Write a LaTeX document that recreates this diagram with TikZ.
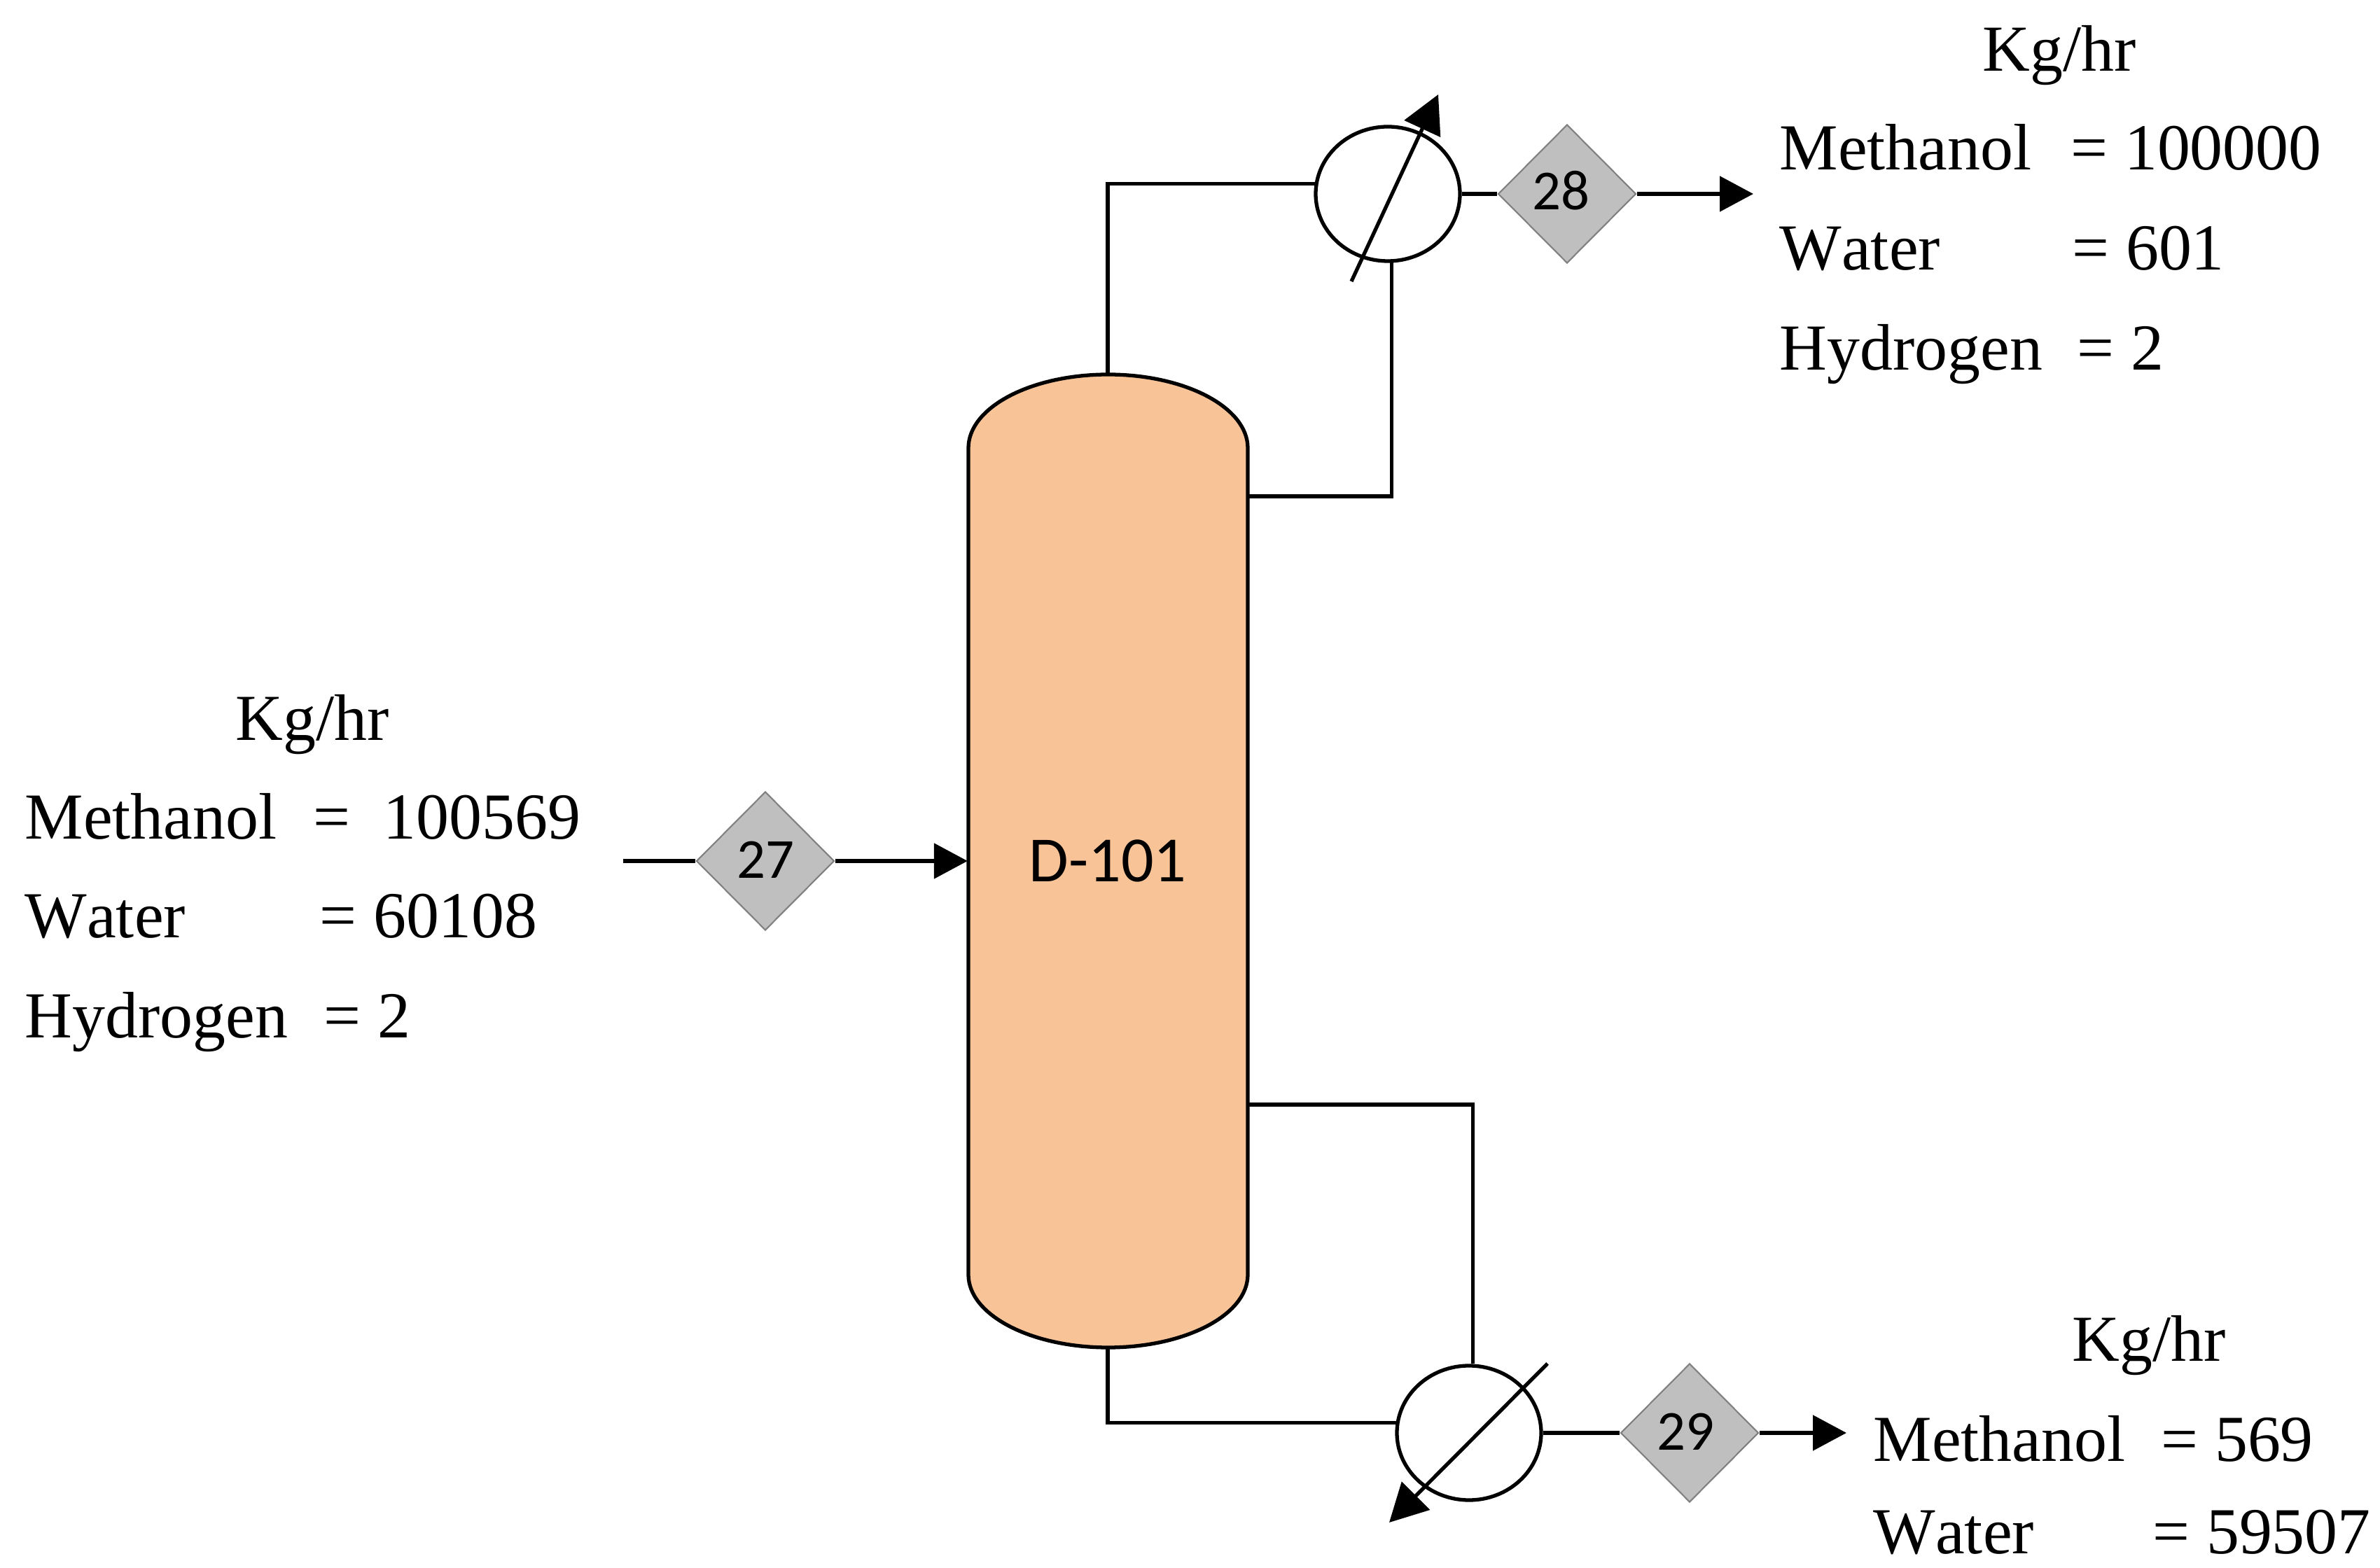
\documentclass[tikz,border=0pt]{standalone}
\usepackage{fontspec}
\setmainfont[Kerning=Off]{Liberation Serif}
\newfontfamily\labelfont{Carlito}
\usetikzlibrary{arrows.meta,shapes.geometric}
\definecolor{columnfill}{HTML}{F8C397}
\definecolor{streamfill}{HTML}{BFBFBF}

\begin{document}
\begin{tikzpicture}[
    column/.style={minimum width=3.99cm, minimum height=13.9cm, inner sep=0pt, font=\labelfont\fontsize{26.2}{30}\selectfont},
    stream/.style={diamond, draw=gray, line width=0.6pt, fill=streamfill, minimum width=1.97cm, minimum height=1.98cm, inner sep=0pt, font=\labelfont\fontsize{23}{26}\selectfont},
    exchanger/.style={ellipse, draw, line width=1.5pt, minimum width=2.06cm, minimum height=1.92cm, inner sep=0pt},
    pipe/.style={line width=1.5pt},
    arr/.style={pipe, -{Triangle[length=4.8mm,width=5mm]}},
    slash/.style={pipe, -{Triangle[length=5.4mm,width=5.6mm]}},
    flow/.style={anchor=base west, inner sep=0pt, font=\fontsize{26.7}{30}\selectfont}
]
\useasboundingbox (0,0) rectangle (33.99,22.39);

\draw[pipe, fill=columnfill] (13.83,15.99) arc[start angle=180, end angle=0, x radius=1.995, y radius=1.05]
    -- (17.82,4.18) arc[start angle=0, end angle=-180, x radius=1.995, y radius=1.04] -- cycle;
\node[column] (col) at (15.82,10.09) {D-101};

\node[stream] (s27) at (10.93,10.09) {\raisebox{1pt}{27}};
\node[stream] (s28) at (22.38,19.62) {\raisebox{3pt}{\hspace{-5pt}28}};
\node[stream] (s29) at (24.13,1.92) {\raisebox{1pt}{\hspace{-3pt}29}};
\node[exchanger] (cond) at (19.82,19.62) {};
\node[exchanger] (reb) at (20.98,1.92) {};

\coordinate (feedin) at (8.90,10.09);
\coordinate (topout) at (25.04,19.62);
\coordinate (botout) at (26.37,1.92);
\coordinate (topdraw) at (17.82,15.30);
\coordinate (botdraw) at (17.82,6.61);
\coordinate (condtail) at (19.30,18.37);
\coordinate (condtip) at (20.54,21.04);
\coordinate (rebtail) at (22.10,2.91);
\coordinate (rebtip) at (19.84,0.64);

\draw[pipe] (feedin) -- (s27.west);
\draw[arr] (s27.east) -- (col.west);
\draw[pipe] (col.north) |- (cond.172);
\draw[pipe] (topdraw) -| (cond.273);
\draw[pipe] (cond.east) -- (s28.west);
\draw[arr] (s28.east) -- (topout);
\draw[pipe] (col.south) |- (reb.172);
\draw[pipe] (botdraw) -| (reb.87);
\draw[pipe] (reb.east) -- (s29.west);
\draw[arr] (s29.east) -- (botout);
\draw[slash] (condtail) -- (condtip);
\draw[slash] (rebtail) -- (rebtip);

\node[flow] (kg1) at (3.36,11.81) {Kg/hr};
\node[flow] (m1) at (0.35,10.40) {Methanol};
\node[flow] (m1v) at (4.47,10.40) {=\ \ 100569};
\node[flow] (w1) at (0.35,8.99) {Water};
\node[flow] (w1v) at (4.56,8.99) {= 60108};
\node[flow] (h1) at (0.35,7.56) {Hydrogen};
\node[flow] (h1v) at (4.62,7.56) {= 2};

\node[flow] (kg2) at (28.31,21.37) {Kg/hr};
\node[flow] (m2) at (25.41,19.96) {Methanol};
\node[flow] (m2v) at (29.57,19.96) {= 100000};
\node[flow] (w2) at (25.41,18.53) {Water};
\node[flow] (w2v) at (29.59,18.53) {= 601};
\node[flow] (h2) at (25.41,17.10) {Hydrogen};
\node[flow] (h2v) at (29.66,17.10) {= 2};

\node[flow] (kg3) at (29.59,2.94) {Kg/hr};
\node[flow] (m3) at (26.75,1.51) {Methanol};
\node[flow] (m3v) at (30.86,1.51) {= 569};
\node[flow] (w3) at (26.75,0.20) {Water};
\node[flow] (w3v) at (30.74,0.20) {= 59507};
\end{tikzpicture}
\end{document}
